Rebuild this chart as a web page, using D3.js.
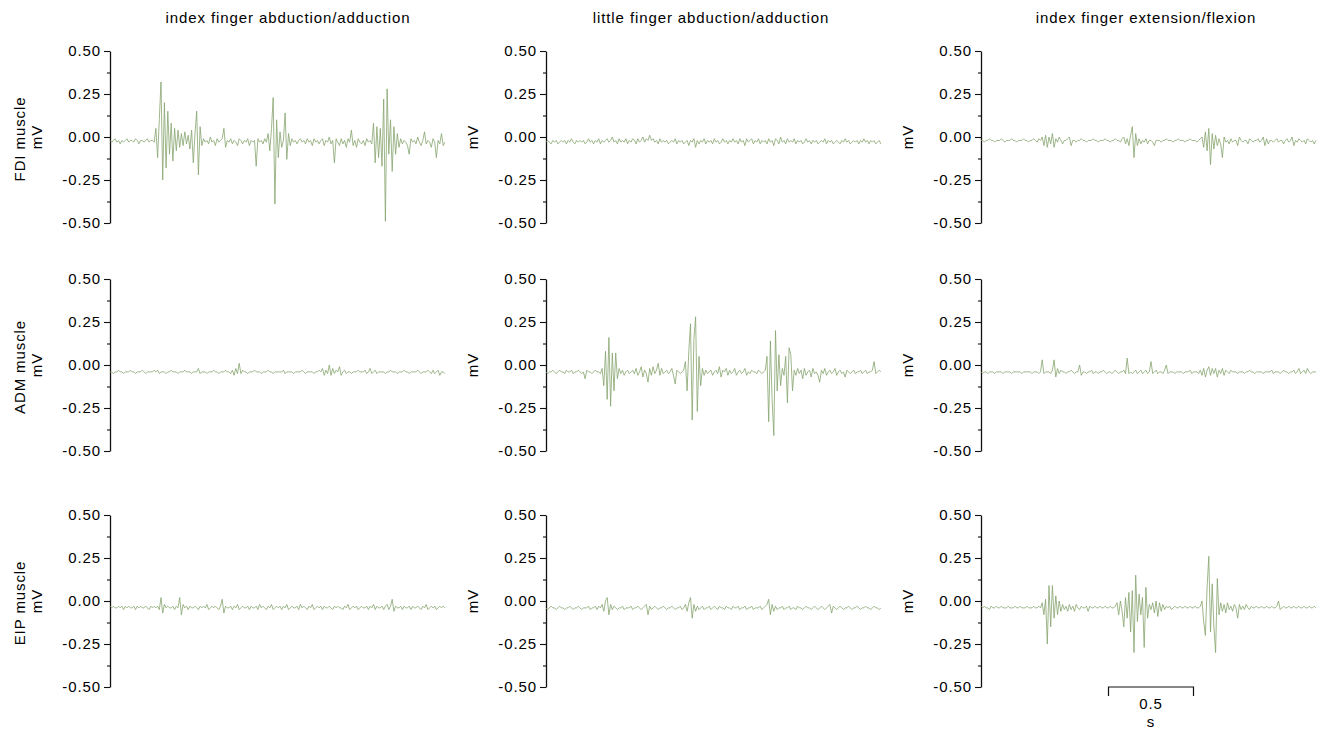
<!DOCTYPE html>
<html>
<head>
<meta charset="utf-8">
<script src="https://cdn.jsdelivr.net/npm/d3@7"></script>
<style>
  body { margin: 0; background: #fff; }
  text { font-family: "Liberation Sans", Arial, sans-serif; font-size: 15px; letter-spacing: 0.9px; fill: #000; }
</style>
</head>
<body>
<div id="root"></div>
<script>
// Movement tasks (columns) and recorded muscles (rows)
var movements = ["index finger abduction/adduction", "little finger abduction/adduction", "index finger extension/flexion"];
var muscles = ["FDI muscle", "ADM muscle", "EIP muscle"];
var majorTicks = [-0.5, -0.25, 0, 0.25, 0.5];
var minorTicks = [-0.375, -0.125, 0.125, 0.375];
var sampleStep = 0.01; // s between samples

// EMG traces in mV
var fdiAbd = [-0.02,-0.03,-0.02,-0.01,-0.03,-0.02,-0.04,-0.02,-0.03,-0.02,
  -0.01,-0.03,-0.02,-0.02,-0.03,-0.01,-0.02,-0.04,-0.02,-0.02,
  -0.03,-0.02,-0.01,-0.03,-0.02,-0.02,-0.03,0.05,-0.12,0.10,
  0.32,-0.25,0.20,-0.18,0.15,-0.10,0.08,-0.14,0.05,-0.08,
  0.04,-0.06,0.02,-0.05,0.03,-0.04,0.01,-0.07,0.04,-0.15,
  0.02,0.15,-0.22,0.06,-0.05,-0.01,-0.03,-0.02,-0.04,0.00,
  -0.03,-0.02,-0.05,-0.01,-0.03,-0.02,-0.01,0.05,-0.06,-0.02,
  -0.03,-0.01,-0.04,-0.02,-0.03,-0.05,-0.01,-0.02,-0.04,-0.02,
  -0.03,-0.01,-0.05,-0.02,-0.03,-0.02,-0.17,-0.01,-0.03,-0.02,
  -0.04,-0.01,-0.03,0.02,-0.08,0.05,0.23,-0.39,0.10,-0.12,
  0.03,-0.06,-0.02,0.14,-0.13,0.02,-0.05,-0.01,-0.03,-0.02,
  -0.04,-0.02,-0.01,-0.03,-0.02,-0.04,-0.01,-0.03,-0.02,-0.05,
  -0.01,-0.03,-0.02,-0.04,-0.02,-0.01,-0.05,-0.02,-0.03,0.00,
  -0.04,-0.02,-0.15,-0.01,-0.03,-0.05,-0.01,-0.04,-0.02,-0.06,
  -0.01,-0.03,0.04,-0.05,-0.02,-0.06,-0.01,-0.03,-0.04,-0.02,
  -0.05,-0.01,-0.03,-0.02,-0.04,0.08,-0.15,0.06,-0.12,0.05,
  -0.17,0.22,-0.49,0.28,-0.10,0.10,-0.20,0.06,-0.10,0.02,
  -0.06,-0.01,-0.04,-0.02,-0.03,-0.05,-0.10,-0.01,-0.03,-0.02,
  -0.04,0.00,-0.03,-0.05,-0.02,0.03,-0.04,-0.02,-0.03,-0.06,
  -0.01,-0.03,-0.12,-0.02,-0.04,0.02,-0.05,-0.03];

var fdiLittle = [-0.03,-0.02,-0.03,-0.04,-0.02,-0.03,-0.02,-0.04,-0.03,-0.02,
  -0.03,-0.02,-0.04,-0.02,-0.03,-0.01,-0.03,-0.04,-0.02,-0.03,
  -0.02,-0.03,-0.02,-0.04,-0.03,-0.01,-0.03,-0.02,-0.04,-0.02,
  -0.03,-0.01,-0.04,-0.02,-0.03,-0.02,-0.01,-0.03,-0.02,0.00,
  -0.03,-0.02,-0.04,-0.01,-0.03,-0.02,-0.03,-0.01,-0.04,-0.02,
  -0.03,-0.01,-0.02,-0.04,-0.01,-0.03,-0.02,0.00,-0.03,-0.01,
  -0.02,0.01,-0.02,-0.01,-0.03,-0.02,-0.04,-0.01,-0.03,-0.02,
  -0.03,-0.02,-0.04,-0.03,-0.02,-0.03,-0.01,-0.04,-0.02,-0.03,
  -0.02,-0.04,-0.03,-0.02,-0.05,-0.02,-0.03,-0.01,-0.06,-0.02,
  -0.04,-0.02,-0.03,-0.01,-0.04,-0.02,-0.03,-0.02,-0.04,-0.01,
  -0.03,-0.02,-0.04,-0.03,-0.01,-0.03,-0.02,-0.04,-0.02,-0.03,
  -0.01,-0.03,-0.02,-0.04,-0.01,-0.03,-0.02,-0.05,-0.01,-0.03,
  -0.02,-0.01,-0.04,-0.02,-0.03,-0.01,-0.04,-0.02,-0.03,-0.02,
  -0.04,-0.01,-0.03,-0.02,-0.05,-0.01,-0.02,-0.04,0.00,-0.03,
  -0.02,-0.04,-0.01,-0.03,-0.02,-0.03,-0.01,-0.04,-0.02,-0.03,
  -0.02,-0.04,-0.03,-0.01,-0.03,-0.02,-0.04,-0.02,-0.03,-0.02,
  -0.04,-0.03,-0.02,-0.03,-0.01,-0.04,-0.02,-0.03,-0.02,-0.04,
  -0.03,-0.02,-0.03,-0.04,-0.02,-0.03,-0.01,-0.03,-0.02,-0.04,
  -0.03,-0.02,-0.03,-0.02,-0.04,-0.02,-0.03,-0.01,-0.03,-0.02,
  -0.04,-0.02,-0.03,-0.02,-0.04,-0.03,-0.02,-0.04];

var fdiExt = [-0.02,-0.02,-0.03,-0.02,-0.02,-0.01,-0.02,-0.02,-0.03,-0.02,
  -0.02,-0.02,-0.01,-0.02,-0.03,-0.02,-0.02,-0.02,-0.01,-0.02,
  -0.02,-0.03,-0.02,-0.02,-0.02,-0.01,-0.02,-0.02,-0.03,-0.02,
  -0.02,-0.01,-0.02,-0.03,-0.01,-0.02,0.00,-0.05,0.01,-0.06,
  0.00,-0.04,0.02,-0.06,-0.01,-0.03,0.00,-0.02,-0.04,-0.02,
  -0.02,-0.01,0.00,-0.05,-0.02,-0.02,-0.03,-0.02,-0.02,-0.01,
  -0.02,-0.02,-0.03,-0.02,-0.02,-0.02,-0.01,-0.02,-0.02,-0.03,
  -0.02,-0.02,-0.02,-0.01,-0.02,-0.02,-0.03,-0.02,-0.02,-0.01,
  -0.02,-0.02,-0.03,-0.01,0.00,-0.04,-0.01,-0.05,0.01,0.06,
  -0.12,0.02,-0.05,-0.01,-0.04,-0.02,-0.03,-0.01,-0.04,-0.02,
  -0.02,-0.03,-0.05,-0.02,-0.02,-0.02,-0.03,-0.02,-0.02,-0.01,
  -0.02,-0.02,-0.02,-0.03,-0.02,-0.02,-0.01,-0.02,-0.02,-0.02,
  -0.03,-0.02,-0.02,-0.01,-0.02,-0.02,-0.02,-0.03,-0.02,-0.01,
  0.00,-0.06,0.03,-0.08,0.05,-0.16,0.02,-0.07,0.01,-0.05,
  -0.01,-0.04,-0.12,0.00,-0.03,-0.02,-0.04,-0.01,-0.03,-0.02,
  -0.02,-0.05,0.00,-0.02,-0.03,-0.02,-0.02,-0.04,-0.01,-0.02,
  -0.03,-0.02,-0.02,-0.01,-0.03,-0.02,0.00,-0.05,-0.01,-0.04,
  -0.02,-0.02,-0.03,-0.02,-0.01,-0.03,-0.02,-0.02,-0.04,-0.02,
  -0.01,-0.03,-0.02,0.00,-0.05,-0.02,-0.03,-0.01,-0.02,-0.03,
  -0.02,-0.04,-0.01,-0.02,-0.03,-0.02,-0.04,-0.02];

var admAbd = [-0.04,-0.04,-0.05,-0.04,-0.04,-0.03,-0.04,-0.04,-0.05,-0.04,
  -0.04,-0.04,-0.03,-0.04,-0.04,-0.05,-0.04,-0.04,-0.04,-0.03,
  -0.04,-0.05,-0.04,-0.04,-0.04,-0.04,-0.03,-0.04,-0.03,-0.05,
  -0.04,-0.04,-0.04,-0.05,-0.04,-0.04,-0.03,-0.04,-0.04,-0.04,
  -0.05,-0.04,-0.04,-0.04,-0.03,-0.04,-0.04,-0.04,-0.05,-0.04,
  -0.04,-0.04,-0.02,-0.05,-0.04,-0.04,-0.04,-0.05,-0.04,-0.04,
  -0.04,-0.03,-0.04,-0.04,-0.05,-0.04,-0.04,-0.04,-0.03,-0.04,
  -0.04,-0.05,-0.03,-0.06,-0.02,-0.05,0.01,-0.05,-0.03,-0.04,
  -0.04,-0.05,-0.04,-0.04,-0.04,-0.03,-0.04,-0.04,-0.04,-0.05,
  -0.04,-0.04,-0.04,-0.03,-0.04,-0.04,-0.05,-0.04,-0.04,-0.04,
  -0.04,-0.04,-0.03,-0.05,-0.04,-0.04,-0.04,-0.04,-0.05,-0.04,
  -0.04,-0.04,-0.04,-0.03,-0.04,-0.05,-0.04,-0.04,-0.04,-0.04,
  -0.05,-0.04,-0.04,-0.03,-0.04,-0.02,-0.06,-0.03,-0.05,0.00,
  -0.06,-0.02,-0.05,-0.03,-0.04,-0.01,-0.06,-0.04,-0.03,-0.05,
  -0.04,-0.04,-0.05,-0.04,-0.04,-0.04,-0.03,-0.04,-0.04,-0.04,
  -0.03,-0.05,-0.04,-0.02,-0.05,-0.04,-0.03,-0.05,-0.04,-0.04,
  -0.04,-0.04,-0.05,-0.04,-0.04,-0.03,-0.04,-0.04,-0.04,-0.05,
  -0.04,-0.04,-0.04,-0.03,-0.04,-0.04,-0.05,-0.04,-0.04,-0.04,
  -0.04,-0.03,-0.04,-0.05,-0.04,-0.04,-0.04,-0.03,-0.04,-0.05,
  -0.03,-0.05,-0.04,-0.03,-0.06,-0.04,-0.04,-0.05];

var admLittle = [-0.04,-0.05,-0.04,-0.04,-0.03,-0.04,-0.05,-0.04,-0.03,-0.04,
  -0.04,-0.05,-0.03,-0.04,-0.04,-0.03,-0.05,-0.04,-0.04,-0.03,
  -0.04,-0.05,-0.04,-0.08,-0.03,-0.04,-0.04,-0.05,-0.04,-0.03,
  -0.04,-0.04,-0.05,-0.02,-0.12,0.08,-0.20,0.16,-0.24,0.07,
  -0.15,0.07,-0.08,-0.02,-0.05,-0.03,-0.06,-0.04,-0.03,-0.05,
  -0.04,-0.03,-0.05,-0.02,-0.06,-0.04,-0.01,-0.07,-0.03,-0.05,
  -0.10,-0.02,-0.06,-0.01,-0.05,-0.03,0.01,-0.06,-0.02,-0.05,
  -0.04,-0.03,-0.05,-0.04,-0.02,-0.06,-0.11,-0.03,-0.04,-0.05,
  -0.04,-0.03,0.02,-0.15,0.08,0.24,-0.32,0.15,0.28,-0.27,
  0.05,-0.12,-0.02,-0.06,-0.03,-0.05,-0.04,-0.03,-0.06,-0.04,
  -0.03,-0.05,-0.01,-0.07,-0.03,-0.04,-0.02,-0.06,-0.03,-0.05,
  -0.04,-0.02,-0.06,-0.04,-0.03,-0.05,-0.04,-0.02,-0.06,-0.04,
  -0.05,-0.03,-0.04,-0.04,-0.05,-0.03,-0.04,-0.05,-0.04,-0.03,
  0.05,-0.33,0.14,-0.20,-0.41,0.20,-0.15,0.06,-0.12,-0.02,
  -0.06,0.05,-0.22,0.10,0.06,-0.15,-0.03,-0.06,-0.02,-0.05,
  -0.03,-0.08,-0.02,-0.06,-0.04,-0.03,-0.07,-0.02,-0.05,-0.04,
  -0.06,-0.10,-0.03,-0.05,-0.02,-0.06,-0.04,-0.03,-0.05,-0.04,
  -0.02,-0.06,-0.04,-0.03,-0.05,-0.04,-0.07,-0.03,-0.04,-0.05,
  -0.04,-0.03,-0.05,-0.04,-0.04,-0.03,-0.05,-0.04,-0.03,-0.05,
  -0.04,-0.04,-0.03,0.02,-0.05,-0.04,-0.03,-0.04];

var admExt = [-0.04,-0.05,-0.04,-0.04,-0.05,-0.04,-0.04,-0.04,-0.05,-0.04,
  -0.04,-0.04,-0.04,-0.05,-0.04,-0.04,-0.04,-0.04,-0.05,-0.04,
  -0.04,-0.04,-0.04,-0.04,-0.05,-0.04,-0.04,-0.04,-0.04,-0.04,
  -0.05,-0.04,-0.04,-0.04,-0.05,-0.04,0.03,-0.05,-0.04,-0.04,
  -0.04,-0.05,-0.03,0.03,-0.07,-0.02,-0.05,-0.03,-0.04,-0.04,
  -0.05,-0.04,-0.04,-0.03,-0.04,-0.05,-0.04,-0.04,0.00,-0.06,
  -0.04,-0.04,-0.05,-0.04,-0.04,-0.03,-0.05,-0.04,-0.04,-0.05,
  -0.04,-0.04,-0.03,-0.04,-0.05,-0.04,-0.04,-0.05,-0.04,-0.03,
  -0.04,-0.05,-0.04,-0.04,-0.03,-0.05,0.04,-0.05,-0.04,-0.05,
  -0.04,-0.03,-0.05,-0.04,-0.03,-0.05,-0.04,-0.03,-0.05,-0.04,
  0.02,-0.05,-0.04,-0.03,-0.05,-0.04,-0.04,-0.05,-0.03,0.00,
  -0.05,-0.04,-0.04,-0.04,-0.05,-0.04,-0.04,-0.04,-0.04,-0.05,
  -0.04,-0.04,-0.04,-0.03,-0.05,-0.04,-0.04,-0.04,-0.05,-0.03,
  -0.06,-0.02,-0.07,-0.03,-0.01,-0.06,-0.02,-0.05,-0.02,-0.07,
  -0.03,-0.05,-0.02,-0.06,-0.03,-0.04,-0.05,-0.03,-0.04,-0.04,
  -0.04,-0.05,-0.04,-0.04,-0.04,-0.05,-0.04,-0.04,-0.03,-0.04,
  -0.04,-0.05,-0.04,-0.04,-0.04,-0.04,-0.05,-0.04,-0.04,-0.04,
  -0.04,-0.03,-0.05,-0.04,-0.04,-0.04,-0.05,-0.04,-0.03,-0.04,
  -0.04,-0.05,-0.04,-0.04,-0.03,-0.05,-0.04,-0.02,-0.05,-0.04,
  -0.03,-0.05,-0.02,-0.04,-0.05,-0.04,-0.04,-0.04];

var eipAbd = [-0.03,-0.04,-0.03,-0.04,-0.04,-0.03,-0.04,-0.03,-0.05,-0.03,
  -0.04,-0.03,-0.04,-0.04,-0.03,-0.05,-0.03,-0.04,-0.03,-0.04,
  -0.04,-0.03,-0.04,-0.05,-0.03,-0.04,-0.03,-0.04,-0.03,-0.05,
  0.02,-0.07,-0.02,-0.04,-0.03,-0.04,-0.04,-0.03,-0.05,-0.03,
  -0.04,0.02,-0.08,-0.02,-0.04,-0.03,-0.05,-0.03,-0.04,-0.04,
  -0.03,-0.04,-0.05,-0.03,-0.04,-0.03,-0.04,-0.02,-0.05,-0.04,
  -0.03,-0.04,-0.03,-0.04,-0.05,-0.03,0.01,-0.07,-0.03,-0.04,
  -0.04,-0.03,-0.05,-0.03,-0.04,-0.02,-0.05,-0.04,-0.03,-0.04,
  -0.04,-0.03,-0.05,-0.03,-0.04,-0.04,-0.03,-0.05,-0.02,-0.04,
  -0.03,-0.04,-0.05,-0.03,-0.04,-0.02,-0.05,-0.04,-0.03,-0.04,
  -0.03,-0.05,-0.03,-0.04,-0.02,-0.05,-0.04,-0.03,-0.04,-0.04,
  -0.03,-0.05,-0.02,-0.04,-0.03,-0.04,-0.05,-0.03,-0.04,-0.02,
  -0.05,-0.04,-0.03,-0.04,-0.03,-0.05,-0.03,-0.04,-0.04,-0.03,
  -0.04,-0.05,-0.03,-0.04,-0.03,-0.04,-0.04,-0.05,-0.03,-0.04,
  -0.02,-0.05,-0.04,-0.03,-0.04,-0.03,-0.05,-0.04,-0.03,-0.04,
  -0.04,-0.03,-0.05,-0.03,-0.04,-0.02,-0.05,-0.03,-0.04,-0.04,
  -0.03,-0.05,-0.03,-0.02,-0.05,-0.03,0.01,-0.06,-0.03,-0.04,
  -0.04,-0.03,-0.05,-0.03,-0.04,-0.04,-0.03,-0.05,-0.03,-0.04,
  -0.04,-0.03,-0.04,-0.05,-0.03,-0.04,-0.02,-0.05,-0.04,-0.03,
  -0.04,-0.03,-0.05,-0.04,-0.03,-0.04,-0.03,-0.04];

var eipLittle = [-0.04,-0.05,-0.04,-0.03,-0.04,-0.04,-0.05,-0.04,-0.03,-0.04,
  -0.04,-0.05,-0.04,-0.04,-0.03,-0.04,-0.05,-0.04,-0.04,-0.03,
  -0.04,-0.05,-0.04,-0.04,-0.04,-0.03,-0.05,-0.04,-0.04,-0.03,
  -0.05,-0.03,-0.04,-0.02,-0.06,0.00,0.02,-0.08,-0.02,-0.05,
  -0.03,-0.04,-0.05,-0.04,-0.04,-0.03,-0.05,-0.04,-0.04,-0.04,
  -0.03,-0.05,-0.04,-0.04,-0.03,-0.04,-0.05,-0.04,-0.03,-0.02,
  -0.08,-0.03,-0.05,-0.04,-0.03,-0.04,-0.05,-0.04,-0.04,-0.03,
  -0.04,-0.05,-0.04,-0.04,-0.03,-0.04,-0.05,-0.04,-0.04,-0.03,
  -0.05,-0.04,-0.02,-0.06,-0.01,0.02,-0.10,-0.02,-0.06,-0.03,
  -0.05,-0.04,-0.03,-0.05,-0.04,-0.04,-0.03,-0.05,-0.04,-0.03,
  -0.04,-0.05,-0.03,-0.04,-0.04,-0.05,-0.03,-0.04,-0.04,-0.05,
  -0.03,-0.04,-0.04,-0.03,-0.05,-0.04,-0.04,-0.03,-0.05,-0.04,
  -0.04,-0.03,-0.05,-0.04,-0.04,-0.04,-0.03,-0.05,-0.04,-0.03,
  -0.02,0.01,-0.08,-0.02,-0.06,-0.03,-0.05,-0.04,-0.04,-0.03,
  -0.05,-0.04,-0.04,-0.03,-0.05,-0.04,-0.04,-0.05,-0.03,-0.04,
  -0.04,-0.05,-0.04,-0.03,-0.04,-0.04,-0.05,-0.04,-0.03,-0.04,
  -0.05,-0.04,-0.03,-0.04,-0.05,-0.04,-0.03,-0.02,-0.07,-0.03,
  -0.04,-0.05,-0.04,-0.03,-0.04,-0.05,-0.04,-0.04,-0.03,-0.04,
  -0.05,-0.04,-0.04,-0.03,-0.04,-0.05,-0.04,-0.04,-0.03,-0.04,
  -0.04,-0.05,-0.04,-0.03,-0.04,-0.04,-0.05,-0.04];

var eipExt = [-0.03,-0.04,-0.03,-0.04,-0.04,-0.05,-0.03,-0.04,-0.04,-0.03,
  -0.04,-0.04,-0.03,-0.04,-0.04,-0.04,-0.03,-0.04,-0.04,-0.04,
  -0.03,-0.04,-0.04,-0.03,-0.04,-0.04,-0.04,-0.03,-0.04,-0.04,
  -0.04,-0.03,-0.04,-0.04,-0.03,-0.04,-0.01,-0.08,0.01,-0.25,
  0.09,-0.15,0.09,-0.10,0.03,-0.08,0.00,-0.06,-0.02,-0.05,
  -0.03,-0.06,-0.02,-0.05,-0.03,-0.06,-0.02,-0.04,-0.05,-0.03,
  -0.04,-0.04,-0.03,-0.06,-0.03,-0.04,-0.04,-0.03,-0.04,-0.04,
  -0.03,-0.04,-0.04,-0.03,-0.04,-0.04,-0.03,-0.04,-0.04,-0.03,
  -0.01,-0.08,0.00,-0.06,-0.15,0.02,-0.10,0.05,-0.18,0.06,
  -0.30,0.15,-0.12,0.04,-0.08,0.02,-0.27,0.08,-0.10,-0.02,
  -0.05,-0.01,-0.07,0.00,-0.09,-0.01,-0.06,-0.02,-0.05,-0.03,
  -0.04,-0.03,-0.05,-0.04,-0.03,-0.04,-0.04,-0.03,-0.04,-0.04,
  -0.03,-0.04,-0.04,-0.03,-0.04,-0.04,-0.03,-0.04,-0.04,-0.03,
  0.00,-0.12,-0.20,0.08,0.26,-0.18,0.10,-0.15,-0.30,0.13,
  -0.08,-0.01,-0.06,-0.02,-0.07,-0.01,-0.05,-0.03,-0.06,-0.02,
  -0.04,-0.10,-0.02,-0.05,-0.03,-0.05,-0.02,-0.04,-0.05,-0.03,
  -0.04,-0.04,-0.03,-0.04,-0.04,-0.03,-0.04,-0.04,-0.03,-0.04,
  -0.04,-0.03,-0.04,-0.04,-0.03,0.00,-0.05,-0.04,-0.03,-0.04,
  -0.04,-0.03,-0.04,-0.04,-0.03,-0.04,-0.04,-0.03,-0.04,-0.04,
  -0.03,-0.04,-0.04,-0.03,-0.04,-0.04,-0.03,-0.04];

// rows = muscles, columns = movements
var traces = [[fdiAbd, fdiLittle, fdiExt],
              [admAbd, admLittle, admExt],
              [eipAbd, eipLittle, eipExt]];

// Layout
var colLeft = [110, 546, 981],
    rowTop = [51, 279, 515],
    plotHeight = 172,
    plotWidth = 340, // 2 s
    traceColor = "#86a56f";

var svg = d3.select("#root")
            .append("svg")
            .attr("width", 1319)
            .attr("height", 729);

var x = d3.scaleLinear().domain([0, 2]).range([0, plotWidth]);
var y = d3.scaleLinear().domain([-0.5, 0.5]).range([plotHeight, 0]);

var line = d3.line()
             .x(function (d, i) { return x(i * sampleStep); })
             .y(function (d) { return y(d); });

// Column titles
var titleX = [288, 711, 1146];
svg.selectAll(".title")
   .data(movements)
   .enter().append("text")
   .attr("class", "title")
   .attr("x", function (d, i) { return titleX[i]; })
   .attr("y", 23)
   .attr("text-anchor", "middle")
   .text(function (d) { return d; });

traces.forEach(function (row, r) {
  row.forEach(function (values, c) {
    var g = svg.append("g")
               .attr("transform", "translate(" + colLeft[c] + "," + rowTop[r] + ")");

    // minor ticks
    var minorAxis = g.append("g")
                     .call(d3.axisLeft(y).tickValues(minorTicks).tickSize(3).tickFormat(""));
    minorAxis.select(".domain").remove();
    minorAxis.selectAll("line").attr("stroke", "#111").attr("stroke-width", 1.1);

    // major axis
    var yAxis = g.append("g")
                 .call(d3.axisLeft(y)
                         .tickValues(majorTicks)
                         .tickSize(6)
                         .tickSizeOuter(0)
                         .tickPadding(3)
                         .tickFormat(function (d) { return d.toFixed(2); }));
    yAxis.select(".domain").attr("stroke", "#111").attr("stroke-width", 1.3);
    yAxis.selectAll("line").attr("stroke", "#111").attr("stroke-width", 1.1);
    yAxis.selectAll("text")
         .attr("fill", "#000")
         .style("font-size", "15px")
         .style("font-family", "'Liberation Sans', Arial, sans-serif");

    // y label
    g.append("text")
     .attr("transform", "translate(-68," + (plotHeight / 2) + ") rotate(-90)")
     .attr("text-anchor", "middle")
     .text("mV");
    if (c === 0) {
      g.append("text")
       .attr("transform", "translate(-85," + (plotHeight / 2 + 2) + ") rotate(-90)")
       .attr("text-anchor", "middle")
       .text(muscles[r]);
    }

    // EMG trace
    g.append("path")
     .datum(values)
     .attr("d", line)
     .attr("fill", "none")
     .attr("stroke", traceColor)
     .attr("stroke-width", 0.8)
     .attr("stroke-linejoin", "round");
  });
});

// Time scale bar (0.5 s) under the last panel
var bar = svg.append("g")
             .attr("transform", "translate(" + colLeft[2] + "," + (rowTop[2] + plotHeight) + ")");
var barStart = 0.75, barEnd = 1.25;
bar.append("path")
   .attr("d", "M" + x(barStart) + ",9V0H" + x(barEnd) + "V9")
   .attr("fill", "none")
   .attr("stroke", "#111")
   .attr("stroke-width", 1.2);
bar.append("text")
   .attr("x", x((barStart + barEnd) / 2))
   .attr("y", 22)
   .attr("text-anchor", "middle")
   .text("0.5");
bar.append("text")
   .attr("x", x((barStart + barEnd) / 2))
   .attr("y", 39.5)
   .attr("text-anchor", "middle")
   .text("s");
</script>
</body>
</html>
